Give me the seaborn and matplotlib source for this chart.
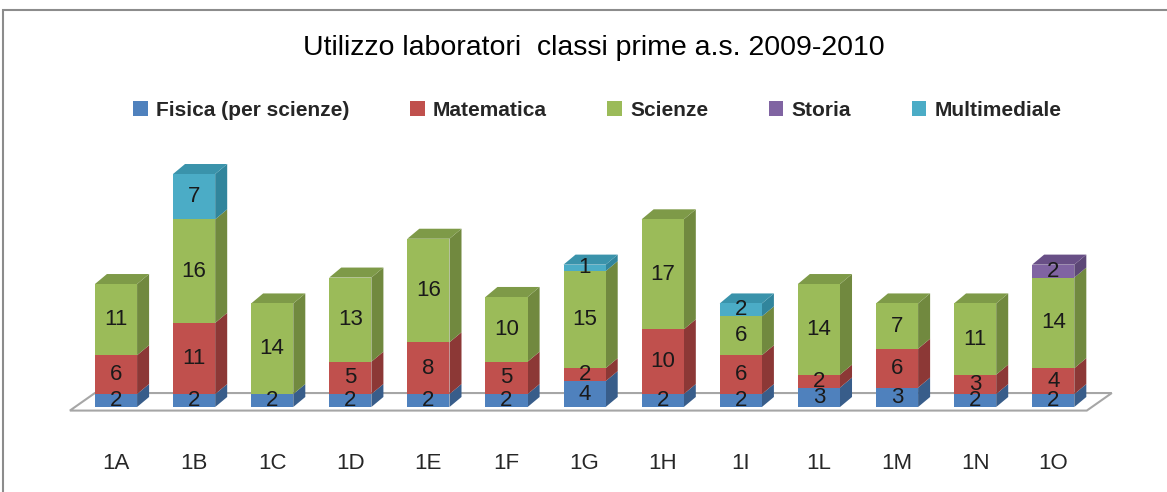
import numpy as np
import pandas as pd
import matplotlib
matplotlib.use("Agg")
import matplotlib.pyplot as plt
from matplotlib.patches import Polygon, Rectangle, Patch
import seaborn as sns

# --- data ---
classes = ["1A", "1B", "1C", "1D", "1E", "1F", "1G", "1H", "1I", "1L", "1M", "1N", "1O"]
fisica = [2, 2, 2, 2, 2, 2, 4, 2, 2, 3, 3, 2, 2]
matematica = [6, 11, 0, 5, 8, 5, 2, 10, 6, 2, 6, 3, 4]
scienze = [11, 16, 14, 13, 16, 10, 15, 17, 6, 14, 7, 11, 14]
storia = [0, 0, 0, 0, 0, 0, 0, 0, 0, 0, 0, 0, 2]
multimediale = [0, 7, 0, 0, 0, 0, 1, 0, 2, 0, 0, 0, 0]

series = ["Fisica (per scienze)", "Matematica", "Scienze", "Storia", "Multimediale"]
values = [fisica, matematica, scienze, storia, multimediale]
front_cols = ["#4F81BD", "#C0504D", "#9BBB59", "#8064A2", "#4BACC6"]
side_cols = ["#385D8A", "#8C3836", "#71893F", "#5C4776", "#31859C"]
top_cols = ["#3F6A9C", "#9E403D", "#7E9A48", "#684F86", "#3A93AB"]

sns.set_style("white")
plt.rcParams["font.family"] = ["Liberation Sans", "DejaVu Sans"]

fig = plt.figure(figsize=(11.67, 4.92), dpi=100)
ax = fig.add_axes([0, 0.1463, 1, 0.5894])

W = 0.54      # bar width (category units)
DX = 0.154    # depth offset in x
DY = 1.55     # depth offset in value units

vals = np.array(values, dtype=float)
cum = np.cumsum(vals, axis=0)
x = np.arange(len(classes))

# floor
floor = Polygon([(-0.59, -0.55), (12.43, -0.55), (12.75, 2.16), (-0.27, 2.16)],
                closed=True, facecolor="white", edgecolor="#A6A6A6", lw=1.5, zorder=0)
ax.add_patch(floor)

# front faces: stacked by overdrawing cumulative totals, top layer first
for k in range(len(series) - 1, -1, -1):
    df = pd.DataFrame({"classe": classes, "tot": cum[k]})
    sns.barplot(data=df, x="classe", y="tot", color=front_cols[k], saturation=1,
                width=W, linewidth=0, ax=ax, zorder=2)

# side and top faces + value labels
for i in x:
    top_k = max(k for k in range(len(series)) if vals[k, i] > 0)
    for k in range(len(series)):
        if vals[k, i] <= 0:
            continue
        y0 = cum[k, i] - vals[k, i]
        y1 = cum[k, i]
        xr = i + W / 2
        ax.add_patch(Polygon([(xr, y0), (xr + DX, y0 + DY), (xr + DX, y1 + DY), (xr, y1)],
                             closed=True, facecolor=side_cols[k], lw=0, zorder=1.9))
        ax.text(i, (y0 + y1) / 2, f"{int(vals[k, i])}", ha="center", va="center",
                fontsize=16, color="#1a1a1a", zorder=5)
    t = cum[top_k, i]
    ax.add_patch(Polygon([(i - W / 2, t), (i + W / 2, t), (i + W / 2 + DX, t + DY), (i - W / 2 + DX, t + DY)],
                         closed=True, facecolor=top_cols[top_k], lw=0, zorder=1.9))

ax.set_xlim(-1.485, 13.457)
ax.set_ylim(-2.01, 42.8)
ax.set_xlabel("")
ax.set_ylabel("")
ax.set_yticks([])
ax.tick_params(axis="x", length=0, pad=24, labelsize=16, labelcolor="#262626")
sns.despine(ax=ax, left=True, bottom=True)

fig.text(0.509, 1 - 48 / 492, "Utilizzo laboratori  classi prime a.s. 2009-2010",
         ha="center", va="center", fontsize=20.5, color="black")

handles = [Patch(facecolor=c, edgecolor="none") for c in front_cols]
fig.legend(handles, series, loc="center", bbox_to_anchor=(0.512, 1 - 110 / 492), ncol=5,
           frameon=False, handlelength=0.7, handleheight=0.7,
           handletextpad=0.4, columnspacing=2.9, prop={"weight": "bold", "size": 15})

# outer frame (top-left corner visible)
fig.patches.append(Rectangle((3 / 1167, -0.1), 1.2, 1.1 - 10 / 492, transform=fig.transFigure,
                             fill=False, edgecolor="#8C8C8C", lw=1.5))

fig.savefig("out.png", dpi=100)
